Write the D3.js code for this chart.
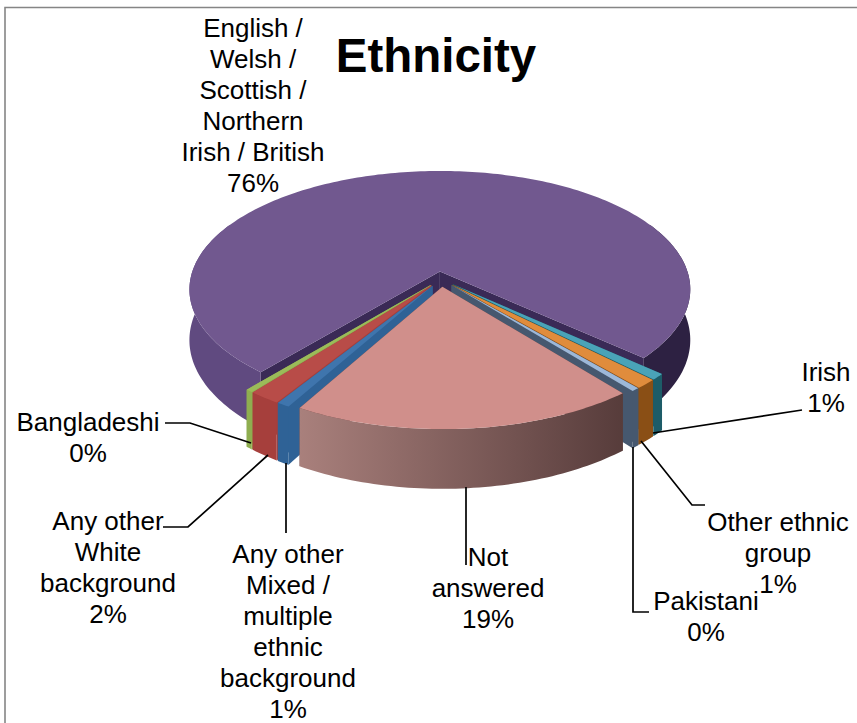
<!DOCTYPE html>
<html>
<head>
<meta charset="utf-8">
<script src="https://cdnjs.cloudflare.com/ajax/libs/d3/7.8.5/d3.min.js"></script>
<style>
html,body{margin:0;padding:0;background:#fff;}
text{font-family:"Liberation Sans",Arial,sans-serif;fill:#000;}
</style>
</head>
<body>
<div id="vis"></div>
<script>
//DATOS
var categories = ["English / Welsh / Scottish / Northern Irish / British","Irish","Other ethnic group","Pakistani","Not answered","Any other Mixed / multiple ethnic background","Any other White background","Bangladeshi"];
var values = [75.5,0.8,1.2,0.45,18.9,0.72,1.75,0.4];
var labelLines = [
	["English /","Welsh /","Scottish /","Northern","Irish / British"],
	["Irish"],
	["Other ethnic","group"],
	["Pakistani"],
	["Not","answered"],
	["Any other","Mixed /","multiple","ethnic","background"],
	["Any other","White","background"],
	["Bangladeshi"]
];
var topColors = ["#71588f","#4aa3b8","#e08c3c","#9db8d8","#d08f8b","#3f75ad","#b84c48","#9bbb59"];
var wallColors = ["#3a2a56","#1d5c68","#8a4f15","#46586f","#5a3e3d","#2f6296","#a63f3c","#8fae50"];
var drawOrder = [0,1,2,3,7,6,5,4];

//POSICION DE ETIQUETAS Y GUIAS
var labelPos = [[253,37],[826,381],[778,531],[706,610],[488,566],[288,563],[108,530],[88,431]];
var leaders = [[],[[653,433],[802,410]],[[641,441],[692,505],[705,505]],[[633,447],[633,612],[649,612]],[[466,487],[466,565]],[[286,463],[286,533]],[[268,455],[188,527],[163,527]],[[251,443],[190,423],[165,423]]];

var width = 857, height = 723;
var svg = d3.select("#vis").append("svg").attr("width",width).attr("height",height).style("display","block");
var defs = svg.append("defs");

svg.append("path").attr("d","M5,723V7.5H857")
	.attr("fill","none").attr("stroke","#858585").attr("stroke-width",1.6);

//PERSPECTIVA
var cx = 441, cy = 279, R = 250, ty = 118, p = 0.153, depth = 50, explode = 0.065;
var xs = d3.scaleLinear().domain([0,1]).range([0,R]);
var ys = d3.scaleLinear().domain([0,1]).range([0,ty]);

function project(X,Y,Z){
	var s = 1/(1 - p*Y);
	return [cx + xs(X)*s, cy + ys(Y)*s + Z*depth*s];
}

var startDeg = 219.7;
var pie = d3.pie().sort(null).startAngle(startDeg*Math.PI/180).endAngle(startDeg*Math.PI/180 + 2*Math.PI);
var arcs = pie(values);
var line = d3.line();

function slice(d){
	var mid = (d.startAngle + d.endAngle)/2;
	var ox = Math.sin(mid)*explode, oy = -Math.cos(mid)*explode;
	var n = Math.max(4,Math.ceil((d.endAngle-d.startAngle)/0.02));
	var angles = d3.range(n+1).map(function(i){ return d.startAngle + (d.endAngle-d.startAngle)*i/n; });
	function rim(z){ return angles.map(function(a){ return project(ox+Math.sin(a),oy-Math.cos(a),z); }); }
	return {ox:ox,oy:oy,top:rim(0),bot:rim(1),apexT:project(ox,oy,0),apexB:project(ox,oy,1)};
}

function addGradient(id,pts,stops){
	var ex = d3.extent(pts,function(q){ return q[0]; });
	var g = defs.append("linearGradient").attr("id",id).attr("gradientUnits","userSpaceOnUse")
		.attr("x1",ex[0]).attr("x2",ex[1]).attr("y1",0).attr("y2",0);
	stops.forEach(function(st){
		g.append("stop").attr("offset",st[0]).attr("stop-color",st[1]);
	});
}

var gp = svg.append("g");
drawOrder.forEach(function(i){
	var d = arcs[i], s = slice(d), g = gp.append("g");
	var nT = s.top.length-1;
	//paredes de corte
	g.append("path").attr("d",line([s.apexT,s.top[0],s.bot[0],s.apexB])+"Z").attr("fill",wallColors[i]);
	g.append("path").attr("d",line([s.apexT,s.top[nT],s.bot[nT],s.apexB])+"Z").attr("fill",wallColors[i]);
	//pared exterior, solo la parte de adelante
	var front = d3.range(nT+1).filter(function(k){ return s.bot[k][1] > s.apexT[1]; });
	var runs = [], cur = [];
	front.forEach(function(k,j){
		if(j>0 && k!==front[j-1]+1){ runs.push(cur); cur=[]; }
		cur.push(k);
	});
	if(cur.length) runs.push(cur);
	var fill = wallColors[i];
	if(i===0){ addGradient("w0",s.top,[[0.15,"#604a80"],[0.85,"#2d2142"]]); fill="url(#w0)"; }
	if(i===4){ addGradient("w4",s.top,[[0,"#a9807c"],[1,"#573c3b"]]); fill="url(#w4)"; }
	runs.forEach(function(r){
		var up = r.map(function(k){ return s.top[k]; });
		var dn = r.map(function(k){ return s.bot[k]; }).reverse();
		g.append("path").attr("d",line(up.concat(dn))+"Z").attr("fill",fill);
	});
	//cara superior
	g.append("path").attr("d",line([s.apexT].concat(s.top))+"Z").attr("fill",topColors[i]);
});

//GUIAS
svg.append("g").selectAll("path").data(leaders.filter(function(l){ return l.length; })).enter().append("path")
	.attr("d",function(l){ return line(l); })
	.attr("fill","none").attr("stroke","#000").attr("stroke-width",1.7);

//ETIQUETAS
var lh = 31, fs = 26;
var labels = svg.append("g").selectAll("text").data(categories).enter().append("text")
	.attr("text-anchor","middle").attr("font-size",fs)
	.attr("x",function(d,i){ return labelPos[i][0]; })
	.attr("y",function(d,i){ return labelPos[i][1]; });
labels.each(function(d,i){
	var t = d3.select(this);
	labelLines[i].concat([Math.round(values[i])+"%"]).forEach(function(str,j){
		t.append("tspan").attr("x",labelPos[i][0]).attr("y",labelPos[i][1]+j*lh).text(str);
	});
});

svg.append("text").attr("x",436).attr("y",72).attr("text-anchor","middle")
	.attr("font-size",47.5).attr("font-weight","bold").text("Ethnicity");
</script>
</body>
</html>
